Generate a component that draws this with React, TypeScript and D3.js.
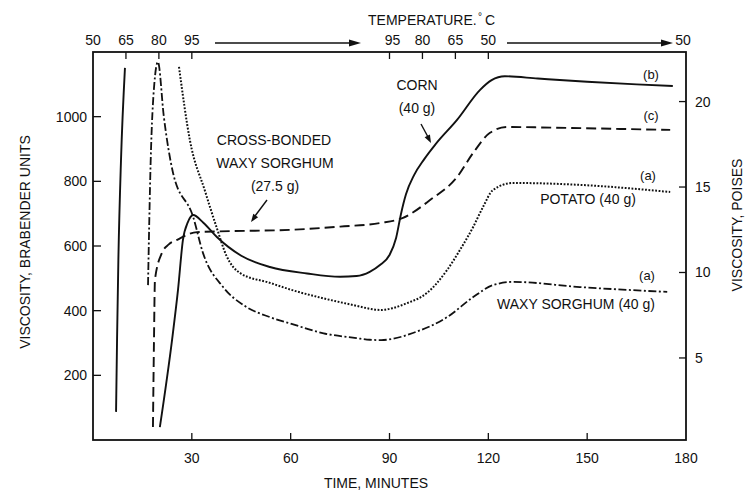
import React from "react";
import * as d3 from "d3";

// ---- data (time in minutes, viscosity in Brabender units) ----
const cornSeries: [number, number][] = [
  [20.3, 40], [24.0, 310], [25.8, 464], [27.3, 619], [28.8, 674], [30.4, 696],
  [33.5, 672], [37.6, 628], [45, 570], [53.7, 535], [65, 515], [75, 505], [80, 507],
  [84, 520], [87.1, 541], [90, 572], [92, 625], [93.5, 700], [95, 760], [97.5, 820],
  [100.5, 868], [104, 915], [110.5, 990], [117.5, 1083], [121, 1113], [125, 1125],
  [135, 1118], [150, 1108], [165, 1100], [176, 1095],
];
const leftSolidSeries: [number, number][] = [
  [7.0, 87], [7.3, 309], [7.7, 557], [8.5, 866], [9.7, 1151],
];
const crossBondedSeries: [number, number][] = [
  [18.2, 40], [18.5, 300], [18.8, 495], [20.9, 578], [23, 605], [25.5, 619],
  [31.6, 643], [41.6, 646], [60, 650], [75, 660], [87.1, 671], [94.1, 687],
  [102.3, 742], [110.5, 813], [115.4, 888], [120.5, 950], [125.7, 968], [140, 966],
  [160, 962], [175.2, 959],
];
const potatoSeries: [number, number][] = [
  [26.1, 1154], [29.4, 928], [34.0, 770], [37.6, 655], [40.5, 570], [44.7, 516],
  [53.7, 486], [60, 465], [70, 438], [80, 415], [84, 406], [87.5, 402], [91, 408],
  [95, 422], [101.4, 455], [107.5, 526], [111.4, 588], [115.4, 659], [118.4, 721],
  [121.4, 773], [127.5, 795], [147.8, 789], [175.2, 767],
];
const waxySeries: [number, number][] = [
  [16.7, 479], [17.5, 860], [18.6, 1100], [19.7, 1169], [21.5, 1000], [24.3, 826],
  [30.4, 690], [33.4, 578], [39.5, 473], [46, 415], [53.7, 380], [60, 360],
  [70, 330], [80, 315], [84, 310], [87.5, 309], [91, 313], [97.1, 331], [107.5, 380],
  [115.4, 442], [121.4, 479], [127.5, 489], [147.8, 473], [174.3, 458],
];

const timeTicks = [30, 60, 90, 120, 150, 180];
const buTicks = [200, 400, 600, 800, 1000];
const poiseTicks = [5, 10, 15, 20];
const tempTickTimes = [0, 10, 20, 30, 90, 100, 110, 120, 180];
const tempTickLabels = ["50", "65", "80", "95", "95", "80", "65", "50", "50"];

const FONT = "'Liberation Sans', Arial, Helvetica, sans-serif";
const INK = "#111";

export default function App() {
  const x = d3.scaleLinear().domain([0, 180]).range([93, 686]);
  const y = d3.scaleLinear().domain([0, 1200]).range([440, 52]);
  const yR = d3.scaleLinear().domain([0.2, 22.9]).range([440, 52]);
  const line = d3
    .line<[number, number]>()
    .x((d) => x(d[0]))
    .y((d) => y(d[1]))
    .curve(d3.curveMonotoneX);

  const left = x(0), right = x(180), top = y(1200), bottom = y(0);

  const arrowHead = (x2: number, y2: number, ang: number, len = 10, w = 3.5) => {
    const c = Math.cos(ang), s = Math.sin(ang);
    const bx = x2 - c * len, by = y2 - s * len;
    return `M${x2},${y2}L${bx - s * w},${by + c * w}L${bx + s * w},${by - c * w}Z`;
  };

  const txt = (s: string, tx: number, ty: number, anchor = "middle", size = 14, extra: any = {}) => (
    <text x={tx} y={ty} textAnchor={anchor} fontSize={size} fontFamily={FONT} fill={INK} {...extra}>
      {s}
    </text>
  );

  const a1 = Math.atan2(222 - 200, 251 - 267);
  const a2 = Math.atan2(143 - 124, 431 - 421);

  return (
    <svg width={746} height={492} style={{ position: "absolute", left: 0, top: 0, background: "#fff" }}>
      <rect x={0} y={0} width={746} height={492} fill="#fff" />
      {/* frame */}
      <rect x={left} y={top} width={right - left} height={bottom - top} fill="none" stroke={INK} strokeWidth={1.8} />

      {/* bottom ticks */}
      {timeTicks.map((t) => (
        <g key={"bt" + t}>
          {t < 180 && <line x1={x(t)} x2={x(t)} y1={bottom} y2={bottom - 7} stroke={INK} strokeWidth={1.3} />}
          {txt(String(t), x(t), 463)}
        </g>
      ))}
      {txt("TIME, MINUTES", 376, 488)}

      {/* left ticks */}
      {buTicks.map((v) => (
        <g key={"lt" + v}>
          <line x1={left} x2={left + 8} y1={y(v)} y2={y(v)} stroke={INK} strokeWidth={1.3} />
          {txt(String(v), 87, y(v) + 5, "end")}
        </g>
      ))}
      <text transform={`translate(30,242) rotate(-90)`} textAnchor="middle" fontSize={14} fontFamily={FONT} fill={INK}>
        VISCOSITY, BRABENDER UNITS
      </text>

      {/* right ticks */}
      {poiseTicks.map((v) => (
        <g key={"rt" + v}>
          <line x1={right - 7} x2={right} y1={yR(v)} y2={yR(v)} stroke={INK} strokeWidth={1.3} />
          {txt(String(v), 695, yR(v) + 5, "start")}
        </g>
      ))}
      <text transform={`translate(742,225) rotate(-90)`} textAnchor="middle" fontSize={14} fontFamily={FONT} fill={INK}>
        VISCOSITY, POISES
      </text>

      {/* top temperature axis */}
      {tempTickTimes.map((t, i) => (
        <g key={"tt" + i}>
          {t > 0 && t < 180 && <line x1={x(t)} x2={x(t)} y1={top} y2={top + 7} stroke={INK} strokeWidth={1.3} />}
          {txt(tempTickLabels[i], t === 180 ? 683 : x(t) + (t === 90 ? 3 : 0), 45)}
        </g>
      ))}
      <line x1={215} x2={352} y1={43} y2={43} stroke={INK} strokeWidth={1.6} />
      <path d={arrowHead(361, 43, 0, 12, 3.5)} fill={INK} />
      <line x1={507} x2={664} y1={43} y2={43} stroke={INK} strokeWidth={1.6} />
      <path d={arrowHead(673, 43, 0, 12, 3.5)} fill={INK} />
      <text x={368} y={25} fontSize={14} fontFamily={FONT} fill={INK}>
        TEMPERATURE.
      </text>
      <text x={478} y={20} fontSize={10} fontFamily={FONT} fill={INK}>°</text>
      <text x={485} y={25} fontSize={14} fontFamily={FONT} fill={INK}>C</text>

      {/* curves */}
      <path d={line(leftSolidSeries) || ""} fill="none" stroke={INK} strokeWidth={1.9} />
      <path d={line(cornSeries) || ""} fill="none" stroke={INK} strokeWidth={1.9} />
      <path d={line(crossBondedSeries) || ""} fill="none" stroke={INK} strokeWidth={1.9} strokeDasharray="10,5" />
      <path d={line(potatoSeries) || ""} fill="none" stroke={INK} strokeWidth={2} strokeDasharray="1.8,1.6" />
      <path d={line(waxySeries) || ""} fill="none" stroke={INK} strokeWidth={1.8} strokeDasharray="8,2.5,2,2.5" />

      {/* annotations */}
      {txt("CROSS-BONDED", 274, 145)}
      {txt("WAXY  SORGHUM", 275, 168)}
      {txt("(27.5  g)", 275, 191)}
      <line x1={267} y1={200} x2={255} y2={216} stroke={INK} strokeWidth={1.4} />
      <path d={arrowHead(251, 222, a1, 8, 3)} fill={INK} />

      {txt("CORN", 417, 90)}
      {txt("(40  g)", 417, 113)}
      <line x1={421} y1={124} x2={428} y2={137} stroke={INK} strokeWidth={1.4} />
      <path d={arrowHead(431, 143, a2, 8, 3)} fill={INK} />

      {txt("(b)", 651, 79, "middle", 13)}
      {txt("(c)", 651, 120, "middle", 13)}
      {txt("(a)", 648, 180, "middle", 13)}
      {txt("POTATO  (40  g)", 588, 204)}
      {txt("(a)", 647, 280, "middle", 13)}
      {txt("WAXY  SORGHUM  (40  g)", 576, 309)}
    </svg>
  );
}
